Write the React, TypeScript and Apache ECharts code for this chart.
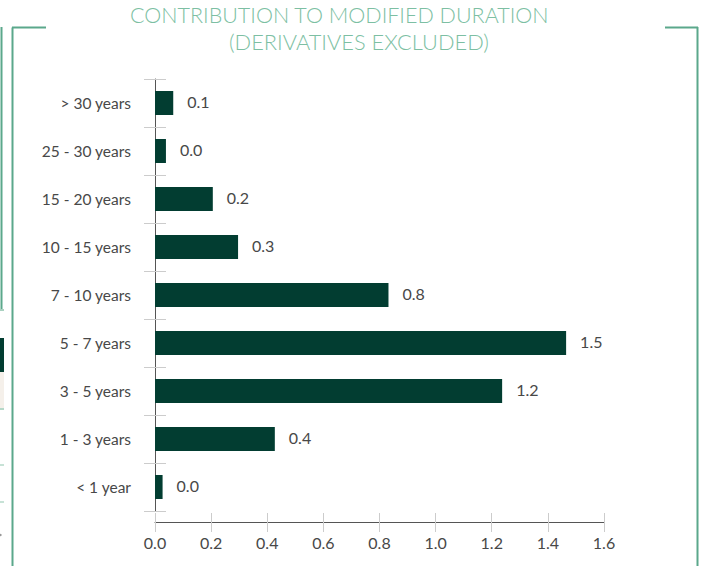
import React, { useEffect, useRef } from "react";
import * as echarts from "echarts";

const categories = [
  "> 30 years",
  "25 - 30 years",
  "15 - 20 years",
  "10 - 15 years",
  "7 - 10 years",
  "5 - 7 years",
  "3 - 5 years",
  "1 - 3 years",
  "< 1 year",
];
const values = [0.065, 0.039, 0.206, 0.296, 0.832, 1.465, 1.237, 0.427, 0.027];
const titleLines = ["CONTRIBUTION TO MODIFIED DURATION", "(DERIVATIVES EXCLUDED)"];
const xMin = 0;
const xMax = 1.6;
const xStep = 0.2;

const FONT = "Lato, 'Noto Sans', sans-serif";
const FRAME = "#5ba88b";
const TEXT = "#484848";

export default function App() {
  const ref = useRef<HTMLDivElement>(null);
  useEffect(() => {
    if (!ref.current) return;
    const chart = echarts.init(ref.current, undefined, { renderer: "svg" });
    chart.setOption({
      animation: false,
      backgroundColor: "#ffffff",
      grid: { left: 155, right: 98, top: 79, bottom: 55, containLabel: false },
      xAxis: [
        {
          type: "value",
          min: xMin,
          max: xMax,
          interval: xStep,
          position: "bottom",
          offset: 11,
          axisLine: { show: true, lineStyle: { color: "#555555", width: 1 } },
          axisTick: { show: true, length: 10, lineStyle: { color: "#cccccc" } },
          axisLabel: {
            margin: 12,
            color: TEXT,
            fontSize: 16,
            fontFamily: FONT,
            formatter: (v: number) => v.toFixed(1),
          },
          splitLine: { show: false },
        },
        {
          type: "value",
          min: xMin,
          max: xMax,
          interval: xStep,
          position: "bottom",
          offset: 11,
          axisLine: { show: false },
          axisTick: { show: true, inside: true, length: 9, lineStyle: { color: "#cccccc" } },
          axisLabel: { show: false },
          splitLine: { show: false },
        },
      ],
      yAxis: [
        {
          type: "category",
          data: categories,
          inverse: true,
          position: "left",
          offset: 12,
          axisLine: { show: true, lineStyle: { color: "#555555", width: 1 } },
          axisTick: { show: true, length: 11, lineStyle: { color: "#cccccc" } },
          axisLabel: {
            margin: 12,
            color: TEXT,
            fontSize: 15.5,
            fontFamily: FONT,
            padding: [0, 0, 4, 0],
          },
        },
        {
          type: "category",
          data: categories,
          inverse: true,
          position: "left",
          offset: 12,
          axisLine: { show: false },
          axisTick: { show: true, inside: true, length: 11, lineStyle: { color: "#cccccc" } },
          axisLabel: { show: false },
        },
      ],
      series: [
        {
          type: "bar",
          xAxisIndex: 0,
          yAxisIndex: 0,
          data: values,
          barWidth: 24,
          itemStyle: { color: "#023d31" },
          label: {
            show: true,
            position: "right",
            distance: 14,
            offset: [0, -1.5],
            color: TEXT,
            fontSize: 16,
            fontFamily: FONT,
            formatter: (p: any) => Number(p.value).toFixed(1),
          },
        },
      ],
      graphic: [
        {
          type: "text",
          left: 130,
          top: 4,
          style: {
            text: titleLines[0],
            fill: "#7dbfa3",
            font: "300 21.5px " + FONT,
          },
        },
        {
          type: "text",
          left: 229,
          top: 30,
          style: {
            text: titleLines[1],
            fill: "#7dbfa3",
            font: "300 21.8px " + FONT,
          },
        },
        // left frame
        { type: "line", shape: { x1: 1.5, y1: 27, x2: 1.5, y2: 310 }, style: { stroke: FRAME, lineWidth: 2 } },
        { type: "line", shape: { x1: 0, y1: 310, x2: 4, y2: 310 }, style: { stroke: "#a9d1c0", lineWidth: 2 } },
        { type: "line", shape: { x1: 12.5, y1: 27.5, x2: 12.5, y2: 566 }, style: { stroke: FRAME, lineWidth: 2 } },
        { type: "line", shape: { x1: 12, y1: 27.5, x2: 46, y2: 27.5 }, style: { stroke: FRAME, lineWidth: 2 } },
        { type: "rect", shape: { x: 0, y: 338, width: 4, height: 34 }, style: { fill: "#023d31" } },
        { type: "rect", shape: { x: 0, y: 372, width: 4, height: 36 }, style: { fill: "#f5f0ea" } },
        { type: "line", shape: { x1: 0, y1: 409, x2: 4, y2: 409 }, style: { stroke: "#b5d8c8", lineWidth: 2 } },
        { type: "line", shape: { x1: 0, y1: 465, x2: 4, y2: 465 }, style: { stroke: "#b5d8c8", lineWidth: 1.5 } },
        { type: "line", shape: { x1: 0, y1: 502, x2: 4, y2: 502 }, style: { stroke: "#b5d8c8", lineWidth: 1.5 } },
        { type: "circle", shape: { cx: 0.5, cy: 535, r: 1.2 }, style: { fill: "#999999" } },
        // right frame
        { type: "line", shape: { x1: 665, y1: 27.5, x2: 698, y2: 27.5 }, style: { stroke: FRAME, lineWidth: 2 } },
        { type: "line", shape: { x1: 697.5, y1: 27, x2: 697.5, y2: 566 }, style: { stroke: FRAME, lineWidth: 2 } },
      ],
    });
    return () => chart.dispose();
  }, []);
  return (
    <div
      ref={ref}
      style={{ position: "fixed", left: 0, top: 0, width: 702, height: 566 }}
    />
  );
}
